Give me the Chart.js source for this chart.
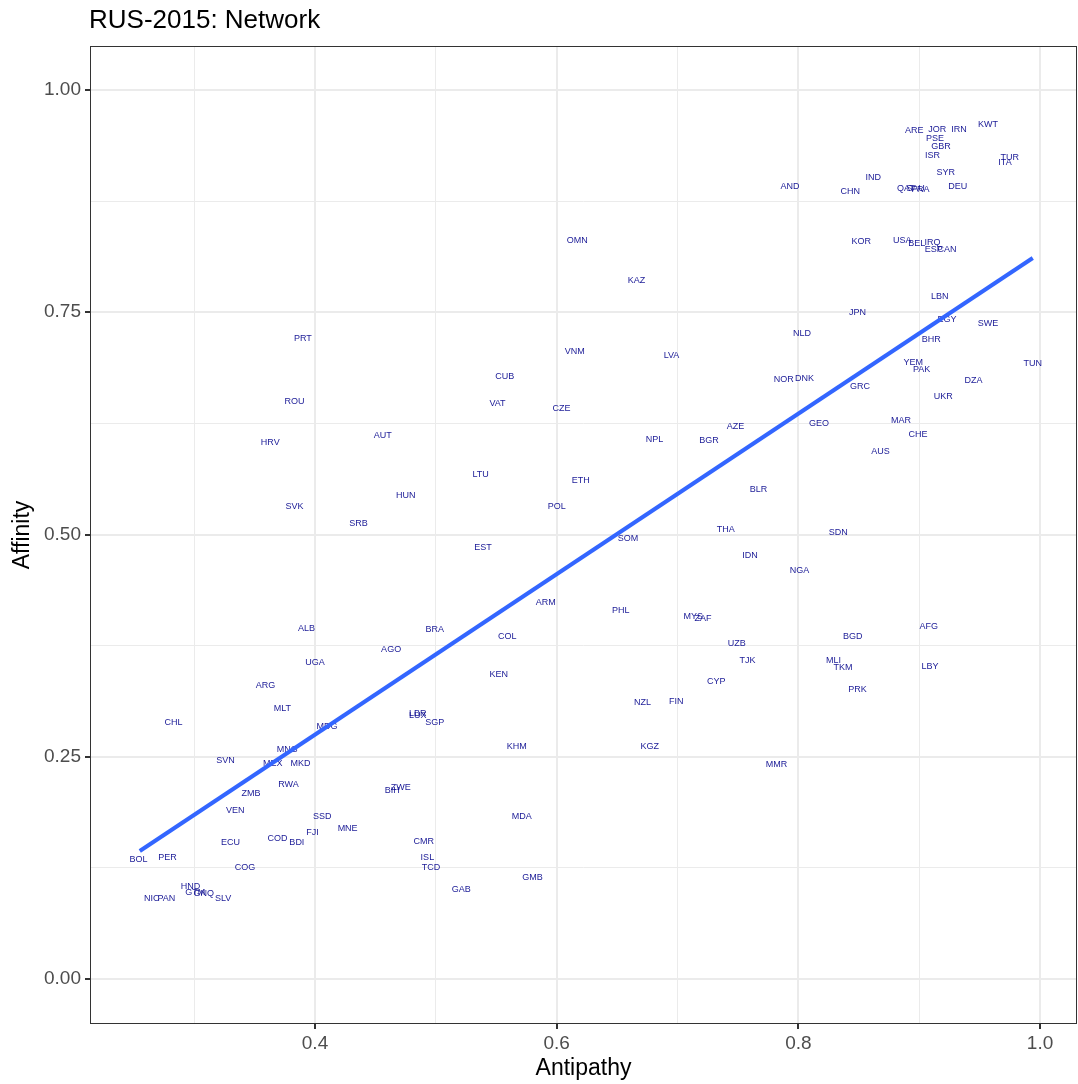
<!DOCTYPE html>
<html>
<head>
<meta charset="utf-8">
<script src="https://cdn.jsdelivr.net/npm/chart.js@4"></script>
<style>
  body { margin: 0; background: #fff; }
  #wrap { width: 1078px; height: 1084px; }
</style>
</head>
<body>
<div id="wrap"><canvas id="netchart"></canvas></div>
<script>
// country codes with antipathy (x) and affinity (y)
const codes = ['ARE','JOR','IRN','KWT','PSE','GBR','ISR','TUR','ITA','SYR',
  'IND','AND','CHN','QAT','SAU','FRA','DEU','KOR','USA','BEL',
  'IRQ','ESP','CAN','LBN','JPN','EGY','SWE','NLD','BHR','YEM',
  'PAK','TUN','NOR','DNK','GRC','DZA','UKR','GEO','MAR','CHE',
  'AUS','OMN','KAZ','VNM','LVA','CUB','VAT','CZE','NPL','BGR',
  'PRT','ROU','HRV','AUT','LTU','ETH','HUN','SVK','POL','SRB',
  'EST','AZE','BLR','THA','SDN','SOM','IDN','NGA','PHL','MYS',
  'ZAF','AFG','BGD','UZB','TJK','MLI','TKM','LBY','CYP','PRK',
  'NZL','FIN','KGZ','MMR','ALB','BRA','AGO','UGA','ARG','MLT',
  'CHL','LBR','LUX','SGP','MDG','MNG','SVN','MEX','MKD','RWA',
  'ZMB','BIH','ZWE','VEN','SSD','FJI','MNE','COD','BDI','ECU',
  'CMR','BOL','PER','ISL','COG','TCD','HND','NIC','PAN','GTM',
  'GNQ','SLV','KHM','MDA','GAB','GMB','ARM','COL','KEN'];
const antipathy = [0.896,0.915,0.933,0.957,0.913,0.918,0.911,0.975,0.971,0.922,
  0.862,0.793,0.843,0.889,0.897,0.901,0.932,0.852,0.886,0.898,
  0.911,0.912,0.923,0.917,0.849,0.923,0.957,0.803,0.910,0.895,
  0.902,0.994,0.788,0.805,0.851,0.945,0.920,0.817,0.885,0.899,
  0.868,0.617,0.666,0.615,0.695,0.557,0.551,0.604,0.681,0.726,
  0.390,0.383,0.363,0.456,0.537,0.620,0.475,0.383,0.600,0.436,
  0.539,0.748,0.767,0.740,0.833,0.659,0.760,0.801,0.653,0.713,
  0.721,0.908,0.845,0.749,0.758,0.829,0.837,0.909,0.732,0.849,
  0.671,0.699,0.677,0.782,0.393,0.499,0.463,0.400,0.359,0.373,
  0.283,0.485,0.485,0.499,0.410,0.377,0.326,0.365,0.388,0.378,
  0.347,0.464,0.471,0.334,0.406,0.398,0.427,0.369,0.385,0.330,
  0.490,0.254,0.278,0.493,0.342,0.496,0.297,0.265,0.277,0.301,
  0.308,0.324,0.567,0.571,0.521,0.580,0.591,0.559,0.552];
const affinity = [0.954,0.956,0.955,0.961,0.945,0.936,0.926,0.924,0.918,0.907,
  0.902,0.892,0.886,0.889,0.889,0.888,0.891,0.830,0.831,0.827,
  0.828,0.821,0.821,0.768,0.750,0.742,0.737,0.726,0.719,0.693,
  0.686,0.692,0.674,0.676,0.666,0.673,0.655,0.625,0.628,0.612,
  0.593,0.831,0.786,0.706,0.701,0.678,0.647,0.642,0.607,0.606,
  0.721,0.650,0.604,0.611,0.568,0.561,0.544,0.531,0.531,0.512,
  0.485,0.621,0.551,0.506,0.502,0.495,0.476,0.459,0.415,0.408,
  0.405,0.396,0.385,0.377,0.358,0.358,0.350,0.352,0.335,0.326,
  0.311,0.312,0.262,0.241,0.394,0.393,0.371,0.356,0.330,0.304,
  0.289,0.299,0.296,0.288,0.284,0.258,0.246,0.242,0.242,0.219,
  0.209,0.212,0.215,0.189,0.183,0.165,0.169,0.158,0.154,0.154,
  0.155,0.134,0.137,0.137,0.125,0.125,0.104,0.090,0.091,0.097,
  0.096,0.090,0.262,0.183,0.101,0.114,0.424,0.385,0.342];

// linear fit line end points
const fitX = [0.255, 0.994];
const fitY = [0.144, 0.811];

// axis ticks: all grid lines, and the ones that carry a label
const xGrid = [0.3, 0.4, 0.5, 0.6, 0.7, 0.8, 0.9, 1.0];
const xLabelled = [0.4, 0.6, 0.8, 1.0];
const yGrid = [0, 0.125, 0.25, 0.375, 0.5, 0.625, 0.75, 0.875, 1.0];
const yLabelled = [0, 0.25, 0.5, 0.75, 1.0];

const chartTitle = 'RUS-2015: Network';

Chart.defaults.font.family = "'Liberation Sans', Arial, Helvetica, sans-serif";

const points = codes.map((c, i) => ({ x: antipathy[i], y: affinity[i] }));
const fitLine = fitX.map((x, i) => ({ x: x, y: fitY[i] }));

// text labels are drawn under the fit line, like geom_text then geom_smooth
const countryLabels = {
    id: 'countryLabels',
    beforeDatasetsDraw(chart) {
        const meta = chart.getDatasetMeta(0);
        const ctx = chart.ctx;
        ctx.save();
        ctx.font = "9px 'Liberation Sans', Arial, sans-serif";
        ctx.fillStyle = 'rgba(0, 0, 139, 0.9)';
        ctx.textAlign = 'center';
        ctx.textBaseline = 'middle';
        meta.data.forEach(function (pt, i) {
            ctx.fillText(codes[i], pt.x, pt.y);
        });
        ctx.restore();
    }
};

const panelFrame = {
    id: 'panelFrame',
    afterDraw(chart) {
        const a = chart.chartArea;
        const ctx = chart.ctx;
        ctx.save();
        ctx.strokeStyle = '#333333';
        ctx.lineWidth = 1;
        ctx.strokeRect(a.left + 0.5, a.top + 0.5, a.right - a.left - 1, a.bottom - a.top - 1);
        ctx.font = "26px 'Liberation Sans', Arial, sans-serif";
        ctx.fillStyle = '#000';
        ctx.textAlign = 'left';
        ctx.textBaseline = 'middle';
        ctx.fillText(chartTitle, a.left - 1, 21);
        ctx.restore();
    }
};

function gridWidth(list) {
    return function (c) {
        return list.includes(c.tick.value) ? 2 : 1;
    };
}
function tickColor(list) {
    return function (c) {
        return list.includes(c.tick.value) ? '#333333' : 'rgba(0,0,0,0)';
    };
}

var ctx = document.getElementById('netchart');
window.chart = new Chart(ctx, {
    type: 'scatter',
    data: {
        datasets: [{
            label: 'countries',
            data: points,
            pointRadius: 0,
            pointHoverRadius: 0
        },
            {
                label: 'fit',
                data: fitLine,
                showLine: true,
                borderColor: '#3366FF',
                borderWidth: 4,
                pointRadius: 0,
                pointHoverRadius: 0,
                fill: false
            }]
    },
    options: {
        responsive: true,
        maintainAspectRatio: false,
        animation: false,
        events: [],
        layout: { padding: { top: 46, right: 1, bottom: 0, left: 0 } },
        plugins: {
            legend: { display: false },
            tooltip: { enabled: false }
        },
        scales: {
            x: {
                type: 'linear',
                min: 0.2138,
                max: 1.0306,
                afterBuildTicks: function (s) {
                    s.ticks = xGrid.map(v => ({ value: v }));
                },
                afterFit: function (s) { s.height = 60; },
                ticks: {
                    callback: v => xLabelled.includes(v) ? v.toFixed(1) : '',
                    color: '#4d4d4d',
                    font: { size: 19 },
                    padding: 3,
                    maxRotation: 0,
                    autoSkip: false
                },
                grid: {
                    color: '#ebebeb',
                    lineWidth: gridWidth(xLabelled),
                    tickColor: tickColor(xLabelled),
                    tickLength: 5
                },
                border: { display: false },
                title: {
                    display: true,
                    text: 'Antipathy',
                    color: '#000',
                    font: { size: 23 },
                    padding: { top: 0, bottom: 2 }
                }
            },
            y: {
                type: 'linear',
                min: -0.0506,
                max: 1.0495,
                afterBuildTicks: function (s) {
                    s.ticks = yGrid.map(v => ({ value: v }));
                },
                afterFit: function (s) { s.width = 90; },
                ticks: {
                    callback: v => yLabelled.includes(v) ? v.toFixed(2) : '',
                    color: '#4d4d4d',
                    font: { size: 19 },
                    padding: 4,
                    autoSkip: false
                },
                grid: {
                    color: '#ebebeb',
                    lineWidth: gridWidth(yLabelled),
                    tickColor: tickColor(yLabelled),
                    tickLength: 5
                },
                border: { display: false },
                title: {
                    display: true,
                    text: 'Affinity',
                    color: '#000',
                    font: { size: 23 },
                    padding: { top: 9, bottom: 0 }
                }
            }
        }
    },
    plugins: [countryLabels, panelFrame]
});
</script>
</body>
</html>
